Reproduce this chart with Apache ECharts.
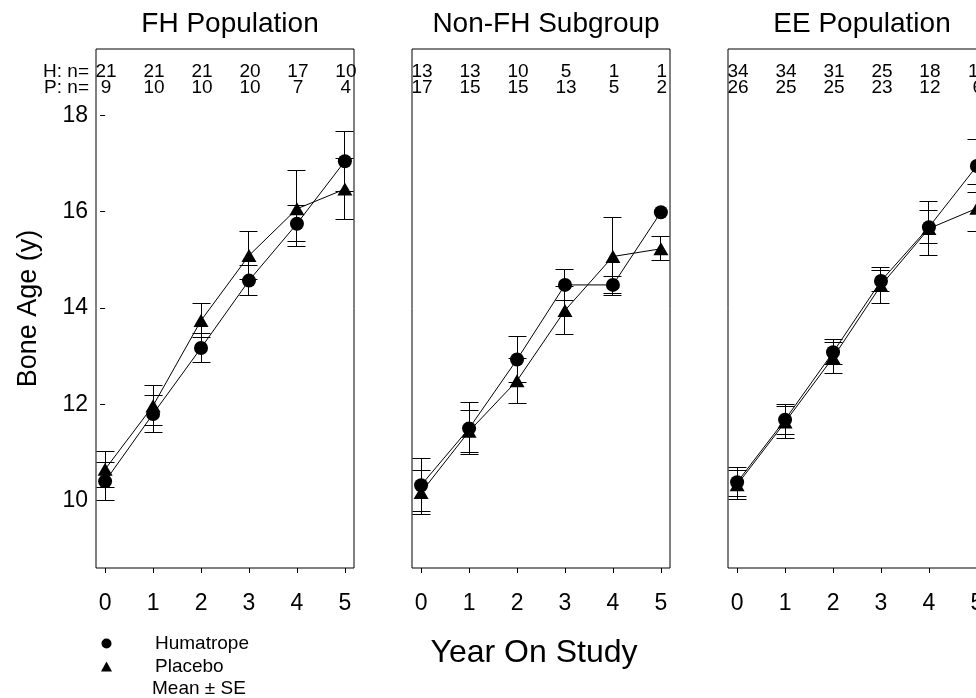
<!DOCTYPE html>
<html><head><meta charset="utf-8">
<script src="https://cdn.jsdelivr.net/npm/echarts@6/dist/echarts.min.js"></script>
<style>html,body{margin:0;padding:0;background:#fff}#c{width:976px;height:698px}</style>
</head><body><div id="c"></div>
<script>
// ---------- data ----------
const years = [0, 1, 2, 3, 4, 5];
const panelTitles = ['FH Population', 'Non-FH Subgroup', 'EE Population'];
const yTicks = [10, 12, 14, 16, 18];

// FH population
const fhHumMean = [10.40, 11.80, 13.17, 14.57, 15.75, 17.05];
const fhHumSE   = [0.40, 0.38, 0.30, 0.32, 0.37, 0.62];
const fhPlaMean = [10.65, 11.97, 13.74, 15.09, 16.06, 16.47];
const fhPlaSE   = [0.38, 0.42, 0.36, 0.49, 0.79, 0.63];
const fhHumN = [21, 21, 21, 20, 17, 10];
const fhPlaN = [9, 10, 10, 10, 7, 4];

// Non-FH subgroup
const nfHumMean = [10.32, 11.50, 12.93, 14.48, 14.48, 15.99];
const nfHumSE   = [0.55, 0.54, 0.47, 0.32, 0.17, 0];
const nfPlaMean = [10.17, 11.44, 12.49, 13.95, 15.07, 15.23];
const nfPlaSE   = [0.45, 0.44, 0.47, 0.50, 0.80, 0.25];
const nfHumN = [13, 13, 10, 5, 1, 1];
const nfPlaN = [17, 15, 15, 13, 5, 2];

// EE population
const eeHumMean = [10.38, 11.68, 13.08, 14.56, 15.68, 16.95];
const eeHumSE   = [0.30, 0.31, 0.26, 0.22, 0.35, 0.55];
const eePlaMean = [10.33, 11.63, 12.97, 14.47, 15.65, 16.07];
const eePlaSE   = [0.30, 0.33, 0.32, 0.38, 0.56, 0.49];
const eeHumN = [34, 34, 31, 25, 18, 11];
const eePlaN = [26, 25, 25, 23, 12, 6];

// ---------- build ----------
const FONT = '"Liberation Sans", Arial, Helvetica, sans-serif';
const panels = [
  {hum: fhHumMean, humSE: fhHumSE, pla: fhPlaMean, plaSE: fhPlaSE, hN: fhHumN, pN: fhPlaN},
  {hum: nfHumMean, humSE: nfHumSE, pla: nfPlaMean, plaSE: nfPlaSE, hN: nfHumN, pN: nfPlaN},
  {hum: eeHumMean, humSE: eeHumSE, pla: eePlaMean, plaSE: eePlaSE, hN: eeHumN, pN: eePlaN}
];
const gridLefts = [96, 412, 728];
const gridW = 258, gridTop = 49, gridH = 519;

function crisp(v) { return Math.round(v - 0.5) + 0.5; }

function errRender(params, api) {
  const se = api.value(2);
  if (!(se > 0)) return null;
  const x = api.value(0), m = api.value(1);
  const t = api.coord([x, m + se]);
  const b = api.coord([x, m - se]);
  const cx = crisp(t[0]), ty = crisp(t[1]), by = crisp(b[1]);
  const hw = 9;
  const st = {stroke: '#000', lineWidth: 1};
  return {type: 'group', children: [
    {type: 'line', shape: {x1: cx, y1: ty, x2: cx, y2: by}, style: st},
    {type: 'line', shape: {x1: cx - hw, y1: ty, x2: cx + hw, y2: ty}, style: st},
    {type: 'line', shape: {x1: cx - hw, y1: by, x2: cx + hw, y2: by}, style: st}
  ]};
}

function nRender(params, api) {
  const x = api.value(0);
  const px = api.coord([x, 10])[0] + 1;
  const cs = params.coordSys;
  const mk = (txt, y) => ({type: 'text', x: px, y: y, style: {
    text: String(txt), fill: '#000', fontSize: 19, fontFamily: FONT,
    align: 'center', verticalAlign: 'middle', textAlign: 'center', textVerticalAlign: 'middle'}});
  return {type: 'group', children: [mk(api.value(1), cs.y + 23), mk(api.value(2), cs.y + 39)]};
}

const grids = [], xAxes = [], yAxes = [], series = [], titles = [];
panels.forEach((p, i) => {
  grids.push({left: gridLefts[i], top: gridTop, width: gridW, height: gridH,
    outerBoundsMode: 'none', containLabel: false,
    show: true, borderColor: '#000', borderWidth: 1, backgroundColor: 'transparent'});
  titles.push({text: panelTitles[i], left: gridLefts[i] + gridW / 2, top: 5, textAlign: 'center',
    textStyle: {fontSize: 28, fontWeight: 'normal', color: '#000', fontFamily: FONT}});
  xAxes.push({type: 'value', gridIndex: i, min: -0.19, max: 5.19,
    axisLine: {show: false}, splitLine: {show: false},
    axisTick: {show: true, inside: false, length: 5, customValues: years, lineStyle: {color: '#000'}},
    axisLabel: {show: true, margin: 24, customValues: years, color: '#000', fontSize: 23, fontFamily: FONT},
    name: i === 1 ? 'Year On Study' : '', nameLocation: 'middle', nameGap: 69,
    nameTextStyle: {fontSize: 32, color: '#000', fontFamily: FONT, padding: [0, 14, 0, 0]}});
  yAxes.push({type: 'value', gridIndex: i, min: 8.6, max: 19.38,
    axisLine: {show: false}, splitLine: {show: false},
    axisTick: {show: i === 0, inside: false, length: 5, customValues: yTicks, lineStyle: {color: '#000'}},
    axisLabel: {show: i === 0, margin: 8, customValues: yTicks, color: '#000', fontSize: 23, fontFamily: FONT},
    name: i === 0 ? 'Bone Age (y)' : '', nameLocation: 'middle', nameGap: 54, nameRotate: 90,
    nameTextStyle: {fontSize: 27, color: '#000', fontFamily: FONT}});

  series.push({type: 'custom', xAxisIndex: i, yAxisIndex: i, renderItem: errRender, z: 2, silent: true,
    data: years.map((y, k) => [y, p.pla[k], p.plaSE[k]])});
  series.push({type: 'custom', xAxisIndex: i, yAxisIndex: i, renderItem: errRender, z: 2, silent: true,
    data: years.map((y, k) => [y, p.hum[k], p.humSE[k]])});
  series.push({name: 'Placebo', type: 'line', xAxisIndex: i, yAxisIndex: i, z: 3,
    symbol: 'triangle', symbolSize: [15, 13], showSymbol: true,
    lineStyle: {color: '#000', width: 1}, itemStyle: {color: '#000'},
    data: years.map((y, k) => [y, p.pla[k]])});
  series.push({name: 'Humatrope', type: 'line', xAxisIndex: i, yAxisIndex: i, z: 4,
    symbol: 'circle', symbolSize: 14, showSymbol: true,
    lineStyle: {color: '#000', width: 1}, itemStyle: {color: '#000'},
    data: years.map((y, k) => [y, p.hum[k]])});
  series.push({type: 'custom', xAxisIndex: i, yAxisIndex: i, renderItem: nRender, z: 5, silent: true, clip: false,
    data: years.map((y, k) => [y, p.hN[k], p.pN[k]])});
});

const chart = echarts.init(document.getElementById('c'), null, {renderer: 'canvas'});
chart.setOption({
  animation: false,
  backgroundColor: '#fff',
  title: titles,
  grid: grids,
  xAxis: xAxes,
  yAxis: yAxes,
  series: series,
  legend: {
    orient: 'vertical', left: 96, top: 629, itemWidth: 11, itemHeight: 10, itemGap: 4,
    data: [{name: 'Humatrope', icon: 'circle'}, {name: 'Placebo', icon: 'triangle'}],
    textStyle: {fontSize: 19, color: '#000', fontFamily: FONT, padding: [0, 0, 0, 38]},
    selectedMode: false
  },
  graphic: [
    {type: 'text', x: 89, y: gridTop + 23, style: {text: 'H: n=', fill: '#000', fontSize: 19, fontFamily: FONT,
      align: 'right', verticalAlign: 'middle', textAlign: 'right', textVerticalAlign: 'middle'}},
    {type: 'text', x: 89, y: gridTop + 39, style: {text: 'P: n=', fill: '#000', fontSize: 19, fontFamily: FONT,
      align: 'right', verticalAlign: 'middle', textAlign: 'right', textVerticalAlign: 'middle'}},
    {type: 'text', x: 152, y: 689, style: {text: 'Mean \u00b1 SE', fill: '#000', fontSize: 19, fontFamily: FONT,
      align: 'left', verticalAlign: 'middle', textAlign: 'left', textVerticalAlign: 'middle'}}
  ]
});
</script>
</body></html>
